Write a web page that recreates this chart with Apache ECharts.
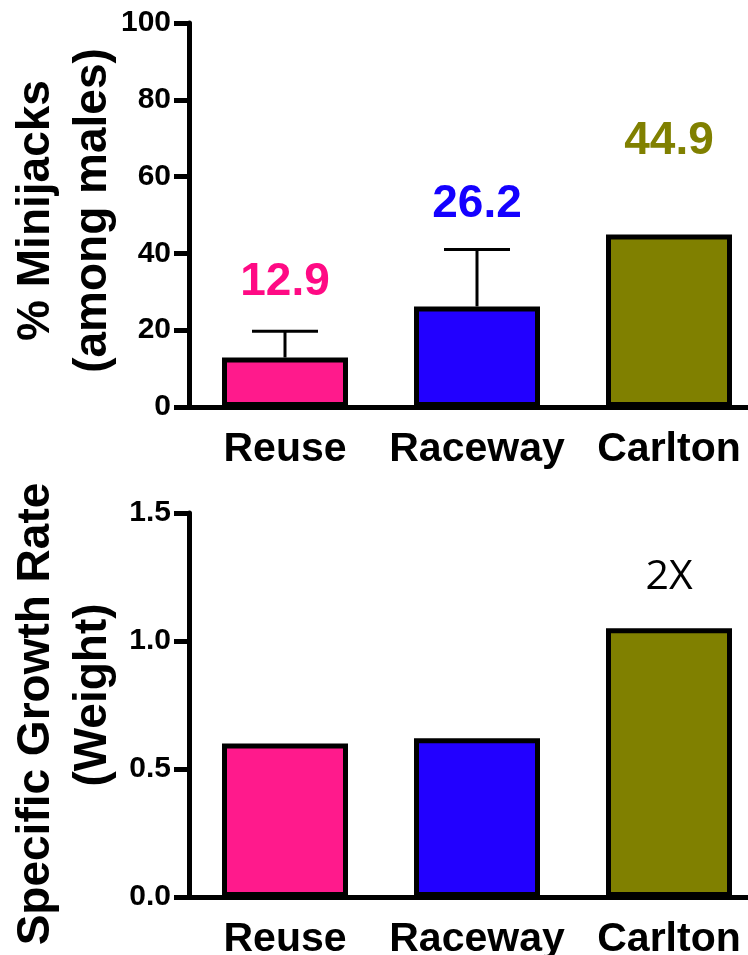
<!DOCTYPE html>
<html>
<head>
<meta charset="utf-8">
<script src="https://cdn.jsdelivr.net/npm/echarts@6/dist/echarts.min.js"></script>
<style>
  html, body { margin: 0; padding: 0; background: #fff; }
  #chart { width: 748px; height: 955px; }
</style>
</head>
<body>
<div id="chart"></div>
<script>
// data
const categories = ['Reuse', 'Raceway', 'Carlton'];
const minijackPct = [12.9, 26.2, 44.9];
const minijackErr = [6.8, 14.8, 0];        // upper SEM whisker
const growthRate = [0.60, 0.62, 1.05];
const growthNotes = ['', '', '2X'];
const pctTicks = [0, 100, 20];              // min, max, step
const growthTicks = [0, 1.5, 0.5];

const barColors = ['#ff1a8c', '#2200ff', '#808000'];
const labelColors = ['#ff0a84', '#1400ff', '#808000'];
const BOLD = '"Liberation Sans", Arial, sans-serif';

const chart = echarts.init(document.getElementById('chart'));

function xAxisFor(gridIndex) {
  return {
    type: 'category', gridIndex, data: categories,
    axisLine: { lineStyle: { color: '#000', width: 5 } },
    axisTick: { alignWithLabel: true, length: 14, lineStyle: { color: '#000', width: 5 } },
    axisLabel: {
      interval: 0, hideOverlap: false,
      color: '#000', fontFamily: BOLD, fontWeight: 'bold', fontSize: 41, margin: 22
    },
    splitLine: { show: false }
  };
}

function yAxisFor(gridIndex, ticks, name, rich, fmt) {
  return {
    type: 'value', gridIndex,
    min: ticks[0], max: ticks[1], interval: ticks[2],
    name, nameLocation: 'middle', nameGap: 67, nameMoveOverlap: false,
    nameTextStyle: { rich },
    axisLine: { show: true, lineStyle: { color: '#000', width: 5 } },
    axisTick: { show: true, length: 15, lineStyle: { color: '#000', width: 5 } },
    axisLabel: { color: '#000', fontFamily: BOLD, fontWeight: 'bold', fontSize: 30, margin: 18, formatter: fmt },
    splitLine: { show: false }
  };
}

const titleStyle = { fontFamily: BOLD, fontWeight: 'bold', fontSize: 46, lineHeight: 57, color: '#000' };

// nudges for the big value labels (px above default "top" position)
const pctLift = [47, 74, 65];

const option = {
  animation: false,
  backgroundColor: '#fff',
  grid: [
    { left: 189, top: 23, width: 576, height: 384, outerBoundsMode: 'none' },
    { left: 189, top: 513, width: 576, height: 384, outerBoundsMode: 'none' }
  ],
  xAxis: [xAxisFor(0), xAxisFor(1)],
  yAxis: [
    yAxisFor(0, pctTicks, '{a|% Minijacks}\n{a|(among males)}',
      { a: Object.assign({ padding: [0, 0, 0, 9] }, titleStyle) },
      v => String(v)),
    yAxisFor(1, growthTicks, '{a|Specific Growth Rate}\n{b|(Weight)}',
      { a: Object.assign({ padding: [0, 18, 0, 0] }, titleStyle),
        b: Object.assign({ padding: [0, 0, 0, 20] }, titleStyle) },
      v => v.toFixed(1))
  ],
  series: [
    {
      type: 'custom', xAxisIndex: 0, yAxisIndex: 0, z: 1,
      data: categories.map((c, i) => [i, minijackPct[i], minijackErr[i]]),
      renderItem: (params, api) => {
        const err = api.value(2);
        if (!err) return null;
        const x = api.value(0), y = api.value(1);
        const base = api.coord([x, y]);
        const top = api.coord([x, y + err]);
        const half = 33;
        const st = { stroke: '#000', lineWidth: 3 };
        return {
          type: 'group',
          children: [
            { type: 'line', shape: { x1: base[0], y1: base[1], x2: top[0], y2: top[1] }, style: st },
            { type: 'line', shape: { x1: top[0] - half, y1: top[1], x2: top[0] + half, y2: top[1] }, style: st }
          ]
        };
      }
    },
    {
      type: 'bar', xAxisIndex: 0, yAxisIndex: 0, z: 2, barWidth: 126,
      data: minijackPct.map((v, i) => ({
        value: v,
        itemStyle: { color: barColors[i] },
        label: { color: labelColors[i], offset: [0, -pctLift[i]] }
      })),
      itemStyle: { borderColor: '#000', borderWidth: 5 },
      label: {
        show: true, position: 'top',
        fontFamily: BOLD, fontWeight: 'bold', fontSize: 46,
        formatter: p => p.value.toFixed(1)
      }
    },
    {
      type: 'bar', xAxisIndex: 1, yAxisIndex: 1, z: 2, barWidth: 126,
      data: growthRate.map((v, i) => ({ value: v, itemStyle: { color: barColors[i] } })),
      itemStyle: { borderColor: '#000', borderWidth: 5 },
      label: {
        show: true, position: 'top', offset: [0, -25],
        color: '#000', fontFamily: '"Open Sans", sans-serif', fontSize: 41,
        formatter: p => growthNotes[p.dataIndex]
      }
    }
  ]
};

chart.setOption(option);
</script>
</body>
</html>
